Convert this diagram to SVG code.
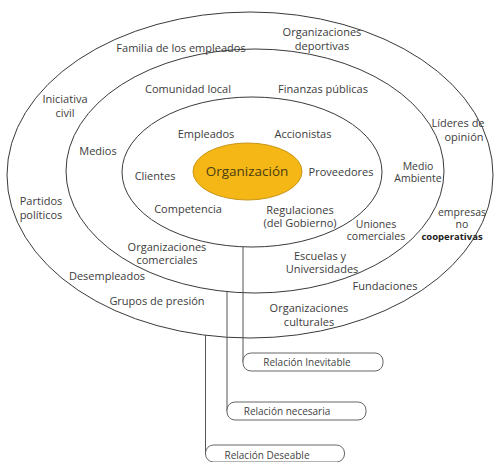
<svg xmlns="http://www.w3.org/2000/svg" width="495" height="462" viewBox="0 0 495 462">
<style>
.ring{fill:none;stroke:#3a3a3a;stroke-width:1}
.t{font-family:"Open Sans","Noto Sans",sans-serif;font-size:11px;fill:#3c3c3c;text-anchor:middle}
.s{font-size:10.5px}
.b{font-family:"Open Sans","Noto Sans",sans-serif;font-size:10px;fill:#444;text-anchor:middle}
.box{fill:#fff;stroke:#555;stroke-width:0.9}
.con{fill:none;stroke:#555;stroke-width:1}
</style>
<rect width="495" height="462" fill="#fff"/>
<g id="outer-ring"><ellipse class="ring" cx="250" cy="175" rx="243" ry="163"/></g>
<g id="middle-ring"><ellipse class="ring" cx="255" cy="171" rx="189" ry="122"/></g>
<g id="inner-ring"><ellipse class="ring" cx="252" cy="172" rx="130" ry="75"/></g>
<g id="organizacion">
<ellipse cx="247.5" cy="171.5" rx="54.5" ry="28.5" fill="#F4B716" stroke="#C8961A" stroke-width="1"/>
<text x="247" y="176" style="font-family:'Open Sans','Noto Sans',sans-serif;font-size:13.5px;fill:#4a3b12;text-anchor:middle">Organización</text>
</g>
<g id="labels-outer">
<text class="t" x="181" y="52">Familia de los empleados</text>
<text class="t" x="322" y="36">Organizaciones</text>
<text class="t" x="322" y="50">deportivas</text>
<text class="t" x="65" y="103">Iniciativa</text>
<text class="t" x="65" y="117">civil</text>
<text class="t" x="458" y="127">Líderes de</text>
<text class="t" x="464" y="141">opinión</text>
<text class="t" x="41" y="205">Partidos</text>
<text class="t" x="41" y="219">políticos</text>
<text class="t s" x="462" y="216">empresas</text>
<text class="t s" x="462" y="228">no</text>
<text class="t" x="452" y="240" style="font-weight:bold;font-size:9.5px;fill:#222">cooperativas</text>
<text class="t" x="107" y="280">Desempleados</text>
<text class="t" x="385" y="290">Fundaciones</text>
<text class="t" x="157" y="305">Grupos de presión</text>
<text class="t" x="309" y="312">Organizaciones</text>
<text class="t" x="309" y="326">culturales</text>
</g>
<g id="labels-middle">
<text class="t" x="188" y="93">Comunidad local</text>
<text class="t" x="323" y="93">Finanzas públicas</text>
<text class="t" x="98" y="155">Medios</text>
<text class="t s" x="418" y="170">Medio</text>
<text class="t s" x="418" y="182">Ambiente</text>
<text class="t s" x="376" y="228">Uniones</text>
<text class="t s" x="376" y="240">comerciales</text>
<text class="t" x="167" y="251">Organizaciones</text>
<text class="t" x="167" y="264">comerciales</text>
<text class="t" x="320" y="260">Escuelas y</text>
<text class="t" x="322" y="273">Universidades</text>
</g>
<g id="labels-inner">
<text class="t" x="206" y="138">Empleados</text>
<text class="t" x="303" y="138">Accionistas</text>
<text class="t" x="155" y="180">Clientes</text>
<text class="t" x="341" y="176">Proveedores</text>
<text class="t" x="188" y="213">Competencia</text>
<text class="t" x="300" y="214">Regulaciones</text>
<text class="t" x="300" y="227">(del Gobierno)</text>
</g>
<g id="connectors">
<path class="con" d="M243,247 V362"/>
<path class="con" d="M227,292 V411"/>
<path class="con" d="M205.5,335 V454"/>
</g>
<g id="relacion-inevitable">
<rect class="box" x="243" y="353" width="140" height="18" rx="8"/>
<text class="b" x="307" y="366">Relación Inevitable</text>
</g>
<g id="relacion-necesaria">
<rect class="box" x="227" y="402" width="139" height="18" rx="8"/>
<text class="b" x="287" y="415">Relación necesaria</text>
</g>
<g id="relacion-deseable">
<rect class="box" x="205.5" y="445" width="139" height="17" rx="8"/>
<text class="b" x="267" y="459">Relación Deseable</text>
</g>
</svg>
